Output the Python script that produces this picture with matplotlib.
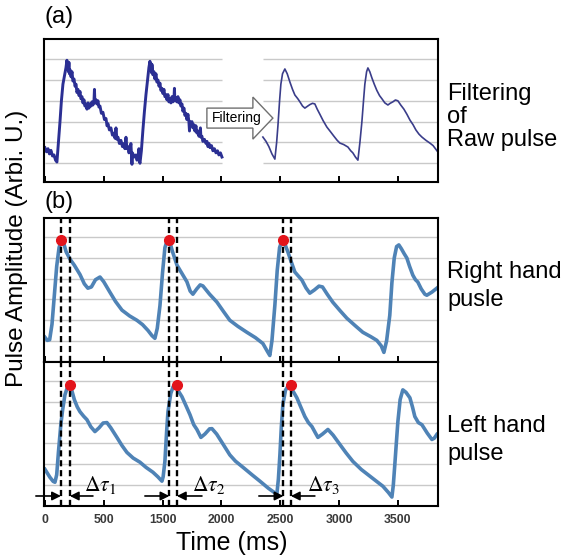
import matplotlib
matplotlib.use("Agg")
import matplotlib.pyplot as plt
from matplotlib.patches import FancyArrow

plt.rcParams['font.family'] = ['Liberation Sans', 'DejaVu Sans']
plt.rcParams['mathtext.fontset'] = 'stix'

# time axis (ms); labels as printed in the original figure
tick_pos = [0, 500, 1000, 1500, 2000, 2500, 3000]
tick_labels = ['0', '500', '1500', '2000', '2500', '3000', '3500']

# (a) raw pulse (noisy), left part of the panel
raw_t = [0, 13, 26, 38, 51, 64, 77, 90, 102, 115, 128, 140, 153, 166, 179, 187, 192,
         196, 200, 204, 208, 213, 222, 230, 238, 247, 256, 264, 272, 281, 290, 298,
         306, 315, 323, 332, 340, 349, 357, 366, 374, 383, 392, 400, 408, 417, 421,
         425, 434, 442, 451, 459, 468, 480, 493, 506, 519, 528, 536, 548, 561, 574,
         587, 596, 604, 612, 621, 633, 646, 659, 672, 680, 689, 697, 706, 714, 723,
         731, 736, 740, 744, 748, 761, 774, 782, 791, 799, 803, 808,
         820, 833, 846, 859, 872, 884, 893, 897, 901, 906, 910, 918, 927, 935, 944,
         952, 961, 970, 978, 986, 995, 1003, 1012, 1020, 1029, 1037, 1046, 1054, 1063,
         1071, 1080, 1088, 1097, 1101, 1105, 1114, 1122, 1131, 1139, 1148, 1156, 1165,
         1173, 1182, 1190, 1199, 1207, 1216, 1224, 1229, 1233, 1242, 1250, 1258, 1267,
         1275, 1284, 1292, 1301, 1309, 1318, 1322, 1326, 1335, 1343, 1356, 1369, 1378,
         1386, 1395, 1403, 1416, 1428, 1441, 1454, 1467, 1479, 1492, 1505]
raw_y = [1.75, 1.55, 1.7, 1.45, 1.62, 1.35, 1.4, 1.15, 1.06, 2.0, 3.0, 4.0, 4.8, 5.2,
         5.6, 5.95, 5.5, 5.8, 5.4, 5.85, 5.3, 5.5, 5.15, 5.4, 4.95, 5.05, 4.7, 4.8,
         4.4, 4.55, 4.25, 4.45, 4.1, 4.2, 3.9, 4.05, 3.75, 3.85, 3.6, 3.9, 3.65, 3.85,
         3.75, 3.95, 3.8, 4.0, 4.55, 3.9, 4.05, 3.85, 4.0, 3.7, 3.75, 3.4, 3.45, 3.1,
         3.15, 2.8, 2.9, 2.6, 2.7, 2.35, 2.45, 2.2, 2.7, 2.15, 2.25, 1.95, 2.1, 1.8,
         1.95, 1.7, 2.25, 1.7, 1.8, 1.5, 1.65, 1.95, 1.4, 0.95, 1.5, 1.45, 1.3, 1.4,
         1.15, 1.25, 1.7, 1.1, 1.0,
         1.6, 2.6, 3.5, 4.3, 5.0, 5.6, 5.9, 5.45, 5.8, 5.35, 5.75, 5.25, 5.4, 5.05,
         5.3, 4.9, 5.0, 4.7, 4.85, 4.5, 4.6, 4.35, 4.55, 4.2, 4.3, 4.05, 4.3, 3.95,
         4.1, 3.9, 4.2, 3.95, 4.1, 4.6, 4.0, 4.15, 3.95, 4.2, 3.9, 4.05, 3.75, 3.85,
         3.5, 3.65, 3.3, 3.4, 3.1, 3.35, 3.0, 2.55, 3.0, 2.85, 3.0, 2.7, 2.85, 2.55,
         2.8, 2.45, 2.55, 2.3, 2.45, 2.7, 2.25, 2.3, 2.05, 2.15, 1.95, 2.05, 1.8, 1.95,
         1.75, 1.85, 1.6, 1.7, 1.5, 1.6, 1.4, 1.5, 1.3]

# (a) filtered pulse, right part of the panel
filt_t = [1853, 1880, 1904, 1930, 1955, 1970, 1981, 1995, 2006, 2020, 2040, 2060,
          2083, 2105, 2125, 2150, 2168, 2190, 2210, 2235, 2253, 2275, 2295, 2315,
          2338, 2365, 2397, 2430, 2457, 2485, 2508, 2540, 2576, 2600, 2618, 2640,
          2661, 2678, 2695, 2710, 2720, 2735, 2746, 2762, 2780, 2800, 2822, 2845,
          2865, 2890, 2916, 2935, 2958, 2980, 3001, 3025, 3052, 3078, 3103, 3130,
          3154, 3180, 3205, 3240, 3273, 3300, 3320, 3341]
filt_y = [2.26, 2.05, 1.8, 1.45, 1.2, 2.0, 2.8, 4.0, 4.8, 5.3, 5.53, 5.3, 4.9, 4.55,
          4.28, 4.1, 3.95, 3.75, 3.65, 3.75, 3.82, 3.88, 3.85, 3.6, 3.35, 3.05, 2.74,
          2.5, 2.3, 2.1, 1.97, 1.9, 1.78, 1.6, 1.5, 1.3, 1.15, 2.0, 3.0, 4.1, 4.8, 5.4,
          5.58, 5.4, 5.1, 4.8, 4.5, 4.25, 4.1, 3.9, 3.8, 3.88, 3.95, 4.04, 4.0, 3.8,
          3.6, 3.35, 3.08, 2.85, 2.6, 2.4, 2.26, 2.1, 1.97, 1.85, 1.7, 1.54]

# (b) right hand pulse
right_t = [0, 20, 40, 60, 80, 100, 120, 140, 160, 180, 212, 250, 298, 335, 365, 395,
           430, 468, 500, 552, 600, 655, 720, 782, 830, 876, 910, 935, 955, 978, 1000,
           1020, 1040, 1060, 1085, 1122, 1165, 1207, 1235, 1258, 1290, 1320, 1343,
           1400, 1462, 1520, 1572, 1640, 1717, 1790, 1853, 1890, 1912, 1930, 1955,
           1975, 1995, 2015, 2035, 2065, 2095, 2125, 2185, 2220, 2252, 2290, 2330,
           2360, 2400, 2448, 2510, 2567, 2640, 2703, 2770, 2822, 2860, 2882, 2905,
           2932, 2950, 2970, 2990, 3009, 3030, 3055, 3077, 3100, 3128, 3150, 3170,
           3200, 3230, 3247, 3290, 3332]
right_y = [1.17, 1.02, 1.05, 1.8, 3.2, 4.6, 5.5, 5.87, 5.7, 5.3, 4.95, 4.65, 4.2,
           3.75, 3.54, 3.6, 3.95, 4.08, 3.85, 3.35, 2.9, 2.48, 2.2, 1.99, 1.78, 1.5,
           1.25, 1.12, 1.6, 2.7, 4.3, 5.5, 5.85, 5.8, 5.3, 4.66, 4.25, 3.85, 3.4, 3.25,
           3.5, 3.7, 3.65, 3.25, 2.87, 2.4, 1.99, 1.7, 1.41, 1.15, 0.87, 0.5, 0.29, 1.0,
           2.72, 4.4, 5.5, 5.83, 5.75, 5.3, 4.8, 4.32, 3.93, 3.55, 3.3, 3.45, 3.64, 3.6,
           3.25, 2.86, 2.45, 2.09, 1.72, 1.41, 1.2, 1.02, 0.75, 0.44, 1.0, 2.23, 3.8,
           5.0, 5.55, 5.63, 5.45, 5.2, 5.0, 4.6, 4.17, 3.95, 3.84, 3.5, 3.25, 3.2, 3.35,
           3.54]

# (b) left hand pulse
left_t = [0, 42, 70, 85, 100, 115, 135, 150, 170, 190, 210, 228, 250, 275, 298, 330,
          357, 390, 425, 460, 495, 527, 560, 612, 655, 697, 750, 808, 860, 918, 960,
          995, 1005, 1020, 1035, 1046, 1070, 1090, 1105, 1125, 1165, 1200, 1233, 1265,
          1292, 1326, 1360, 1400, 1420, 1460, 1505, 1572, 1620, 1683, 1760, 1828, 1900,
          1950, 1972, 1985, 1998, 2010, 2023, 2045, 2074, 2100, 2142, 2175, 2210, 2240,
          2270, 2300, 2321, 2360, 2406, 2450, 2508, 2560, 2618, 2690, 2763, 2820, 2873,
          2920, 2950, 2962, 2975, 2990, 3001, 3020, 3043, 3070, 3103, 3125, 3145, 3175,
          3205, 3250, 3290, 3310, 3332]
left_y = [1.76, 1.38, 1.18, 1.14, 1.5, 2.6, 3.9, 4.6, 5.33, 5.68, 5.71, 5.55, 5.1,
          4.75, 4.52, 4.3, 4.14, 3.8, 3.57, 3.75, 3.98, 4.0, 3.75, 3.29, 2.9, 2.57, 2.3,
          2.1, 1.85, 1.62, 1.4, 1.19, 1.4, 2.14, 3.6, 4.52, 5.4, 5.72, 5.76, 5.6, 5.24,
          4.8, 4.38, 3.9, 3.67, 3.29, 3.45, 3.7, 3.71, 3.45, 3.05, 2.45, 2.15, 1.86, 1.5,
          1.19, 0.85, 0.65, 0.57, 1.3, 2.48, 3.8, 4.86, 5.55, 5.81, 5.6, 5.19, 4.75,
          4.29, 4.0, 3.81, 3.5, 3.29, 3.45, 3.67, 3.4, 2.95, 2.55, 2.14, 1.75, 1.43,
          1.18, 0.95, 0.65, 0.43, 1.0, 2.0, 3.2, 4.05, 5.1, 5.57, 5.45, 5.19, 4.75, 4.29,
          4.0, 3.9, 3.5, 3.19, 3.25, 3.43]

# peak markers and delay lines
dash_t = [136, 212, 1058, 1122, 2028, 2091]
right_peak_t = [136, 1058, 2028]
right_peak_y = [5.87, 5.87, 5.87]
left_peak_t = [212, 1122, 2091]
left_peak_y = [5.81, 5.81, 5.81]
delay_labels = [r'$\Delta\tau_1$', r'$\Delta\tau_2$', r'$\Delta\tau_3$']
delay_text_t = [335, 1252, 2230]
arrow_in_tail = [-77, 850, 1819]
arrow_out_tail = [408, 1335, 2295]

W, H = 568, 558
fig = plt.figure(figsize=(W / 100, H / 100), dpi=100)


def box(l, t, r, b):
    return [l / W, 1 - b / H, (r - l) / W, (b - t) / H]


ax_a = fig.add_axes(box(44, 39, 438, 182))
ax_r = fig.add_axes(box(44, 218, 438, 361.5))
ax_l = fig.add_axes(box(44, 361.5, 438, 506))

line_col = '#4f83b6'
grid_col = '#c9c9c9'

for ax in (ax_a, ax_r, ax_l):
    ax.set_xlim(-8, 3342)
    ax.set_xticks(tick_pos)
    ax.tick_params(axis='x', direction='in', length=4.5, width=1.4, top=False,
                   labelbottom=False)
    ax.set_yticks([])
    for s in ax.spines.values():
        s.set_linewidth(1.5)
        s.set_color('black')

# panel (a)
ax_a.set_ylim(0.1, 6.97)
for g in range(1, 7):
    ax_a.hlines(g, raw_t[0], raw_t[-1], color=grid_col, lw=1, zorder=1)
    ax_a.hlines(g, filt_t[0], filt_t[-1], color=grid_col, lw=1, zorder=1)
ax_a.plot(raw_t, raw_y, color='#2b2f93', lw=2.1, zorder=2)
ax_a.plot(filt_t, filt_y, color='#3a3d8a', lw=1.2, zorder=2)
arrow = FancyArrow(1377, 3.17, 561, 0, width=0.96, head_width=2.02, head_length=170,
                   length_includes_head=True, facecolor='white', edgecolor='#707070',
                   lw=1.0, zorder=3)
ax_a.add_patch(arrow)
ax_a.text(1628, 3.17, 'Filtering', fontsize=10, ha='center', va='center', zorder=4)

# panels (b)
for ax, t, y, pt, py in ((ax_r, right_t, right_y, right_peak_t, right_peak_y),
                         (ax_l, left_t, left_y, left_peak_t, left_peak_y)):
    ax.set_ylim(0, 6.93)
    for g in range(1, 7):
        ax.axhline(g, color=grid_col, lw=1, zorder=1)
    ax.plot(t, y, color=line_col, lw=2.6, solid_joinstyle='round', zorder=2)
    for d in dash_t:
        ax.axvline(d, color='black', lw=1.7, ls=(0, (2.6, 1.6)), zorder=3)
    ax.plot(pt, py, 'o', color='#e3141b', ms=7, zorder=4)

for i in range(3):
    ax_l.annotate('', xy=(dash_t[2 * i], 0.48), xytext=(arrow_in_tail[i], 0.48),
                  arrowprops=dict(arrowstyle='-|>', mutation_scale=13, lw=1.2,
                                  color='black', shrinkA=0, shrinkB=0),
                  annotation_clip=False)
    ax_l.annotate('', xy=(dash_t[2 * i + 1], 0.48), xytext=(arrow_out_tail[i], 0.48),
                  arrowprops=dict(arrowstyle='-|>', mutation_scale=13, lw=1.2,
                                  color='black', shrinkA=0, shrinkB=0),
                  annotation_clip=False)
    ax_l.text(delay_text_t[i], 0.72, delay_labels[i], fontsize=15.5, ha='left',
              va='baseline')

ax_l.tick_params(axis='x', labelbottom=True, labelsize=8.8, labelcolor='#3a3a3a',
                 pad=6)
ax_l.set_xticklabels(tick_labels, fontweight='bold')

# labels
fig.text(45 / W, 1 - 17 / H, '(a)', fontsize=17, ha='left', va='center')
fig.text(45 / W, 1 - 202 / H, '(b)', fontsize=17, ha='left', va='center')
fig.text(17 / W, 1 - 248 / H, 'Pulse Amplitude (Arbi. U.)', fontsize=17.5,
         rotation=90, ha='center', va='center')
fig.text(232 / W, 1 - 543 / H, 'Time (ms)', fontsize=18, ha='center', va='center')
fig.text(447 / W, 1 - 117 / H, 'Filtering\nof\nRaw pulse', fontsize=17, ha='left',
         va='center', linespacing=1.05)
fig.text(447 / W, 1 - 286 / H, 'Right hand\npusle', fontsize=17, ha='left',
         va='center', linespacing=1.3)
fig.text(447 / W, 1 - 440 / H, 'Left hand\npulse', fontsize=17, ha='left',
         va='center', linespacing=1.3)

fig.savefig('out.png', dpi=100)
